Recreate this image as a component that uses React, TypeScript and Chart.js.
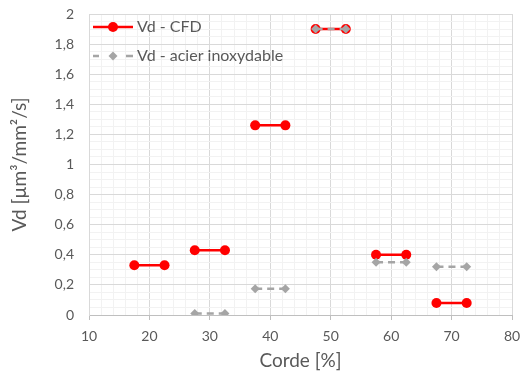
import React, { useEffect, useRef } from "react";
import { Chart, registerables } from "chart.js";

Chart.register(...registerables);

const FONT = "Lato, 'Liberation Sans', sans-serif";
const TEXT = "#595959";

const segStarts = [17.5, 27.5, 37.5, 47.5, 57.5, 67.5];
const segEnds = [22.5, 32.5, 42.5, 52.5, 62.5, 72.5];
const cfdValues: (number | null)[] = [0.33, 0.43, 1.26, 1.9, 0.4, 0.08];
const inoxValues: (number | null)[] = [null, 0.01, 0.175, 1.9, 0.35, 0.32];

const xTicksMajor = [10, 20, 30, 40, 50, 60, 70, 80];
const yTicksMajor = [0, 0.2, 0.4, 0.6, 0.8, 1, 1.2, 1.4, 1.6, 1.8, 2];

const cfdLabel = "Vd - CFD";
const inoxLabel = "Vd - acier inoxydable";

function buildPoints(values: (number | null)[]) {
  const pts: { x: number; y: number | null }[] = [];
  values.forEach((v, i) => {
    if (v === null) return;
    pts.push({ x: segStarts[i], y: v });
    pts.push({ x: segEnds[i], y: v });
    pts.push({ x: segEnds[i] + 2.5, y: null });
  });
  return pts;
}

const isMajorX = (v: number) => xTicksMajor.some((m) => Math.abs(m - v) < 1e-6);
const isMajorY = (v: number) => yTicksMajor.some((m) => Math.abs(m - v) < 1e-6);

const legendPlugin = {
  id: "customLegend",
  afterDraw(chart: any) {
    const ctx = chart.ctx;
    ctx.save();
    let y = 27;
    ctx.strokeStyle = "#ff0000";
    ctx.lineWidth = 2.5;
    ctx.setLineDash([]);
    ctx.beginPath();
    ctx.moveTo(93, y);
    ctx.lineTo(133, y);
    ctx.stroke();
    ctx.fillStyle = "#ff0000";
    ctx.beginPath();
    ctx.arc(113, y, 5, 0, Math.PI * 2);
    ctx.fill();
    ctx.fillStyle = TEXT;
    ctx.font = `16px ${FONT}`;
    ctx.textBaseline = "middle";
    ctx.textAlign = "left";
    ctx.fillText(cfdLabel, 137, y);
    y = 56;
    ctx.strokeStyle = "#a5a5a5";
    ctx.lineWidth = 2.5;
    ctx.beginPath();
    ctx.moveTo(93, y);
    ctx.lineTo(99, y);
    ctx.moveTo(126, y);
    ctx.lineTo(133, y);
    ctx.stroke();
    ctx.fillStyle = "#a5a5a5";
    ctx.beginPath();
    ctx.moveTo(113, y - 4.5);
    ctx.lineTo(117.5, y);
    ctx.lineTo(113, y + 4.5);
    ctx.lineTo(108.5, y);
    ctx.closePath();
    ctx.fill();
    ctx.fillStyle = TEXT;
    ctx.fillText(inoxLabel, 137, y);
    ctx.restore();
  },
};

export default function App() {
  const ref = useRef<HTMLCanvasElement>(null);
  useEffect(() => {
    if (!ref.current) return;
    const chart = new Chart(ref.current, {
      type: "line",
      data: {
        datasets: [
          {
            label: inoxLabel,
            data: buildPoints(inoxValues),
            borderColor: "#a5a5a5",
            backgroundColor: "#a5a5a5",
            borderWidth: 2.5,
            borderDash: [7, 5],
            pointStyle: "rectRot",
            pointRadius: 4.5,
            pointBorderWidth: 0,
            spanGaps: false,
            order: 0,
          },
          {
            label: cfdLabel,
            data: buildPoints(cfdValues),
            borderColor: "#ff0000",
            backgroundColor: "#ff0000",
            borderWidth: 2.5,
            pointStyle: "circle",
            pointRadius: 5,
            pointBorderWidth: 0,
            spanGaps: false,
            order: 1,
          },
        ],
      },
      options: {
        responsive: false,
        animation: false,
        layout: { padding: { top: 14, right: 10, left: 0, bottom: 0 } },
        plugins: { legend: { display: false }, tooltip: { enabled: false } },
        scales: {
          x: {
            type: "linear",
            min: 10,
            max: 80,
            afterFit: (s: any) => {
              s.height = 57;
              s.paddingLeft = 0;
              s.paddingRight = 0;
            },
            ticks: {
              stepSize: 2,
              autoSkip: false,
              maxRotation: 0,
              maxTicksLimit: 100,
              color: TEXT,
              font: { family: FONT, size: 14 },
              padding: 8,
              callback: (v: any) => (isMajorX(Number(v)) ? String(v) : ""),
            },
            grid: {
              color: (c: any) => (isMajorX(c.tick.value) ? "#d9d9d9" : "#f2f2f2"),
              tickColor: (c: any) => (isMajorX(c.tick.value) ? "#bfbfbf" : "rgba(0,0,0,0)"),
              tickLength: 5,
            },
            border: { color: "#bfbfbf", width: 1 },
            title: {
              display: true,
              text: "Corde [%]",
              color: TEXT,
              font: { family: FONT, size: 19 },
              padding: { top: 4, bottom: 0 },
            },
          },
          y: {
            type: "linear",
            min: 0,
            max: 2,
            afterFit: (s: any) => {
              s.width = 89;
              s.paddingTop = 0;
              s.paddingBottom = 0;
            },
            ticks: {
              stepSize: 0.05,
              autoSkip: false,
              maxTicksLimit: 100,
              color: TEXT,
              font: { family: FONT, size: 14 },
              padding: 15,
              callback: (v: any) => {
                const n = Number(v);
                if (!isMajorY(n)) return "";
                return String(Math.round(n * 10) / 10).replace(".", ",");
              },
            },
            grid: {
              color: (c: any) => (isMajorY(c.tick.value) ? "#d9d9d9" : "#f2f2f2"),
              drawTicks: false,
            },
            border: { color: "#d9d9d9", width: 1 },
            title: {
              display: true,
              text: "Vd [µm³/mm²/s]",
              color: TEXT,
              font: { family: FONT, size: 19 },
              padding: { top: 8, bottom: 0 },
            },
          },
        },
      },
      plugins: [legendPlugin],
    } as any);
    return () => chart.destroy();
  }, []);
  return (
    <canvas
      ref={ref}
      width={522}
      height={372}
      style={{ position: "fixed", left: 0, top: 0, display: "block", background: "#fff" }}
    />
  );
}
